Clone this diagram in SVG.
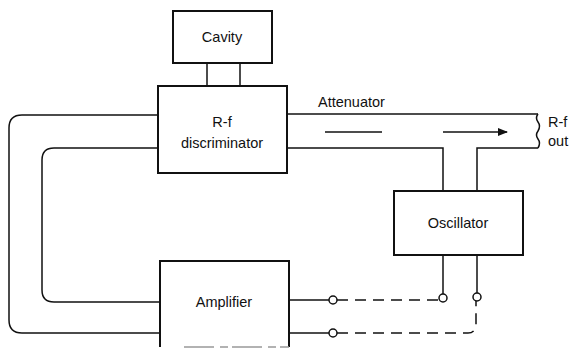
<svg xmlns="http://www.w3.org/2000/svg" width="574" height="348" viewBox="0 0 574 348">
<defs>
<style>
.box{fill:none;stroke:#111;stroke-width:2}
.ln{fill:none;stroke:#111;stroke-width:1.5}
.dash{fill:none;stroke:#111;stroke-width:1.5;stroke-dasharray:11 7}
.term{fill:#fff;stroke:#111;stroke-width:1.5}
text{font-family:"Liberation Sans",Arial,sans-serif;font-size:14.5px;fill:#111}
.c{text-anchor:middle}
</style>
<marker id="ah" markerWidth="10" markerHeight="8" refX="9" refY="4" orient="auto" markerUnits="userSpaceOnUse">
<path d="M0,0 L10,4 L0,8 Z" fill="#111"/>
</marker>
</defs>
<rect width="574" height="348" fill="#fff"/>
<g id="connectors">
<line class="ln" x1="207" y1="63" x2="207" y2="86"/>
<line class="ln" x1="240" y1="63" x2="240" y2="86"/>
<path class="ln" d="M158,115 H22 Q9,115 9,128 V320 Q9,333 22,333 H160"/>
<path class="ln" d="M158,148 H54 Q42,148 42,160 V290 Q42,302 54,302 H160"/>
<path class="ln" d="M287,114 H538"/>
<path class="ln" d="M287,148 H443 V191"/>
<path class="ln" d="M538,148 H477 V191"/>
<path class="ln" d="M538,114 q-3,4 0,8 q3,4 0,9 q-3,4 0,8 q3,4 0,9"/>
<line class="ln" x1="325" y1="132" x2="382" y2="132"/>
<line class="ln" x1="443" y1="132" x2="507" y2="132" marker-end="url(#ah)"/>
<line class="ln" x1="443" y1="255" x2="443" y2="294"/>
<line class="ln" x1="477" y1="255" x2="477" y2="293"/>
<line class="ln" x1="289" y1="300" x2="329" y2="300"/>
<line class="ln" x1="289" y1="333" x2="329" y2="333"/>
<line class="dash" x1="337" y1="300" x2="439" y2="300"/>
<path class="dash" d="M337,333 H468 Q475,333 476,325 V301"/>
<circle class="term" cx="333" cy="300" r="4"/>
<circle class="term" cx="333" cy="333" r="4"/>
<circle class="term" cx="443" cy="298" r="4"/>
<circle class="term" cx="477" cy="297" r="4"/>
</g>
<g id="cavity">
<rect class="box" x="173" y="11" width="99" height="52"/>
<text class="c" x="222" y="42">Cavity</text>
</g>
<g id="discriminator">
<rect class="box" x="158" y="86" width="129" height="87"/>
<text class="c" x="222" y="127">R-f</text>
<text class="c" x="222" y="148">discriminator</text>
</g>
<g id="attenuator">
<text x="318" y="107">Attenuator</text>
</g>
<g id="rfout">
<text x="548" y="127">R-f</text>
<text x="548" y="146">out</text>
</g>
<g id="oscillator">
<rect class="box" x="394" y="191" width="129" height="64"/>
<text class="c" x="458" y="228">Oscillator</text>
</g>
<g id="amplifier">
<path class="box" d="M160,347 V261 H289 V347"/>
<path d="M184,347 H289" stroke="#999" stroke-width="1.5" stroke-dasharray="30 6 8 4"/>
<text class="c" x="224" y="307">Amplifier</text>
</g>
</svg>
